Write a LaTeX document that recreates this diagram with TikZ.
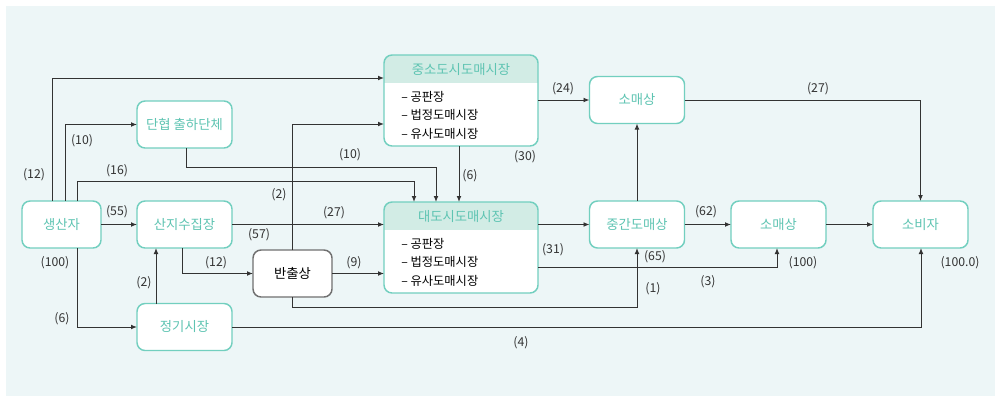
\documentclass[tikz,border=0pt]{standalone}
\usepackage{fontspec}
\setmainfont{Noto Sans CJK KR}
\usetikzlibrary{calc, arrows.meta, positioning}

\definecolor{bgcol}{HTML}{EDF6F7}
\definecolor{boxcol}{HTML}{72CFBF}
\definecolor{boxtxt}{HTML}{5EC4B2}
\definecolor{headcol}{HTML}{D2ECE5}
\definecolor{linecol}{HTML}{333333}
\definecolor{greycol}{HTML}{707070}
\definecolor{numcol}{HTML}{333333}

\begin{document}
\begin{tikzpicture}[x=0.75pt, y=-0.75pt,
  >={Latex[length=4.5pt, width=3.6pt]},
  flow/.style={->, draw=linecol, line width=0.7pt},
  box/.style={draw=boxcol, line width=1.1pt, rounded corners=6pt, fill=white,
    minimum width=71.25pt, minimum height=35.25pt, inner sep=0pt, outer sep=0pt,
    text=boxtxt, font=\fontsize{10}{11}\selectfont},
  narrow/.style={box, minimum width=59.25pt},
  grey/.style={narrow, draw=greycol, text=black},
  market/.style={box, minimum width=115.5pt, minimum height=68.25pt,
    path picture={\fill[headcol, sharp corners] (path picture bounding box.north west)
      rectangle ([yshift=-21pt]path picture bounding box.north east);}},
  title/.style={inner sep=0pt, text=boxtxt, font=\fontsize{10}{11}\selectfont},
  items/.style={align=left, anchor=west, inner sep=0pt, text=black,
    font=\fontsize{9.2}{13.9}\selectfont},
  num/.style={inner sep=0pt, text=numcol, font=\fontsize{9.2}{10}\selectfont}
]
% Canvas
\useasboundingbox (0,0) rectangle (995,396);
\fill[bgcol] (6,6) rectangle (995,396);

% Boxes
\node[narrow] (prod) at (61.5,224.5) {생산자};
\node[box] (coop) at (184.5,124.5) {단협 출하단체};
\node[box] (coll) at (184.5,224.5) {산지수집장};
\node[box] (fair) at (184.5,327) {정기시장};
\node[grey] (carr) at (292.5,273.5) {반출상};
\node[market] (small) at (461,100.5) {};
\node[market] (big) at (461,247.5) {};
\node[box] (retA) at (637,100) {소매상};
\node[box] (whole) at (637,224.5) {중간도매상};
\node[box] (retB) at (778.5,224.5) {소매상};
\node[box] (cons) at (920.5,224.5) {소비자};

% Market headers and lists
\node[title] (smallT) at ($(small.north)+(0,14.5)$) {중소도시도매시장};
\node[title] (bigT) at ($(big.north)+(0,14.5)$) {대도시도매시장};
\node[items] (smallL) at ($(small.north west)+(17,60)$) {– 공판장\\– 법정도매시장\\– 유사도매시장};
\node[items] (bigL) at ($(big.north west)+(17,60)$) {– 공판장\\– 법정도매시장\\– 유사도매시장};

% Flows from producer
\draw[flow] ($(prod.north)+(-9.5,0)$) |- ($(small.west)+(0,-22.5)$);
\draw[flow] ($(prod.north)+(3.5,0)$) |- (coop.west);
\draw[flow] ($(prod.north)+(15.5,0)$) |- ($(big.north)+(-47,-21)$) -- ($(big.north)+(-47,0)$);
\draw[flow] (prod.east) -- (coll.west);
\draw[flow] ($(prod.south)+(15.5,0)$) |- (fair.west);

% Collection and traders
\draw[flow] ($(coop.south)+(1.5,0)$) |- ($(big.north)+(-25,-35)$) -- ($(big.north)+(-25,0)$);
\draw[flow] (coll.east) -- (coll.east -| big.west);
\draw[flow] ($(coll.south)+(-2.5,0)$) |- (carr.west);
\draw[flow] ($(fair.north)+(-28.5,0)$) -- ($(coll.south)+(-28.5,0)$);
\draw[flow] (carr.north) |- ($(small.west)+(0,23.5)$);
\draw[flow] (carr.east) -- (carr.east -| big.west);
\draw[flow] (carr.south) |- ($(whole.south)+(0,59)$) -- (whole.south);
\draw[flow] (fair.east) -| ($(cons.south)+(0.5,0)$);

% Wholesale to retail
\draw[flow] ($(small.south)+(-2,0)$) -- ($(big.north)+(-2,0)$);
\draw[flow] (retA.west -| small.east) -- (retA.west);
\draw[flow] (retA.east) -| (cons.north);
\draw[flow] (whole.north) -- (retA.south);
\draw[flow] (whole.west -| big.east) -- (whole.west);
\draw[flow] ($(big.east)+(0,19.5)$) -| ($(retB.south)+(-1.5,0)$);
\draw[flow] (whole.east) -- (retB.west);
\draw[flow] (retB.east) -- (cons.west);

% Shares
\node[num] (n12a) at (34,175) {(12)};
\node[num] (n10a) at (82,141) {(10)};
\node[num] (n16) at (117,171) {(16)};
\node[num] (n55) at (117,212) {(55)};
\node[num] (n100a) at (55,263) {(100)};
\node[num] (n6a) at (62,319) {(6)};
\node[num] (n2a) at (144,283) {(2)};
\node[num] (n12b) at (216,263) {(12)};
\node[num] (n57) at (259,235) {(57)};
\node[num] (n2b) at (279,195) {(2)};
\node[num] (n10b) at (350,155) {(10)};
\node[num] (n27a) at (334,213) {(27)};
\node[num] (n9) at (354,263) {(9)};
\node[num] (n6b) at (470,176) {(6)};
\node[num] (n30) at (525,157) {(30)};
\node[num] (n24) at (563,89) {(24)};
\node[num] (n31) at (553,250) {(31)};
\node[num] (n27b) at (818,89) {(27)};
\node[num] (n62) at (706,212) {(62)};
\node[num] (n65) at (655,257) {(65)};
\node[num] (n100b) at (803,263) {(100)};
\node[num] (n3) at (708,282) {(3)};
\node[num] (n1) at (653,289) {(1)};
\node[num] (n4) at (521,343) {(4)};
\node[num] (n100c) at (960,263) {(100.0)};
\end{tikzpicture}
\end{document}
